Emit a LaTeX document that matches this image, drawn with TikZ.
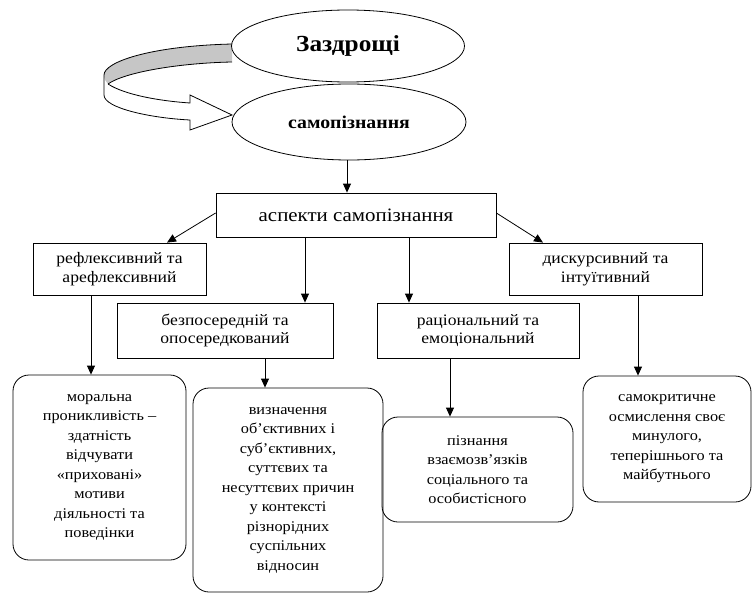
\documentclass[tikz,border=0pt]{standalone}
\usepackage{fontspec}
\setmainfont{Liberation Serif}[FakeStretch=1.1]
\usetikzlibrary{arrows.meta,shapes.geometric,calc}
\begin{document}
\begin{tikzpicture}[x=1pt,y=-1pt,
  line width=0.8pt,
  arr/.style={-{Triangle[length=9pt,width=8pt]}},
  sqbox/.style={draw,rectangle,align=center,inner sep=0pt,font=\fontsize{16}{18.5}\selectfont},
  rbox/.style={draw,rectangle,rounded corners=16pt,align=center,inner sep=0pt,font=\fontsize{14.8}{19.5}\selectfont},
  ell/.style={draw,ellipse,inner sep=0pt,font=\bfseries}
]
\useasboundingbox (0,0) rectangle (753,594);
% ribbon arrow
\fill[gray!45] (232,44) .. controls (150,46) and (104,62) .. (104,75)
   .. controls (104,79) and (106,82) .. (108,84)
   .. controls (125,72) and (180,63) .. (232,62) -- cycle;
\draw (232,44) .. controls (150,46) and (104,62) .. (104,75) -- (104,95);
\draw (232,62) .. controls (180,63) and (125,72) .. (108,84);
\draw (108,84) .. controls (125,95) and (160,101) .. (190,103) -- (190,95) -- (232,115) -- (190,130) -- (190,120) .. controls (150,118) and (104,108) .. (104,95);
% ellipses
\node[ell,minimum width=233pt,minimum height=72pt,font=\bfseries\fontsize{23}{25}\selectfont] (zaz) at (348,46) {Заздрощі};
\node[ell,minimum width=234pt,minimum height=76pt,fill=white,font=\bfseries\fontsize{18}{20}\selectfont] (sam) at (349,122) {самопізнання};
% boxes
\node[sqbox,minimum width=280pt,minimum height=44pt,font=\fontsize{19}{21}\selectfont] (asp) at (356,215) {аспекти самопізнання};
\node[sqbox,minimum width=173pt,minimum height=52pt] (refl) at (119.5,269) {рефлексивний та\\арефлексивний};
\node[sqbox,minimum width=216pt,minimum height=55pt] (bezp) at (225,330.5) {безпосередній та\\опосередкований};
\node[sqbox,minimum width=202pt,minimum height=55pt] (rac) at (478,330.5) {раціональний та\\емоціональний};
\node[sqbox,minimum width=193pt,minimum height=52pt] (disk) at (605.5,269) {дискурсивний та\\інтуїтивний};
\node[rbox,minimum width=173pt,minimum height=185pt] (mor) at (99.5,467.5) {моральна\\проникливість –\\здатність\\відчувати\\«приховані»\\мотиви\\діяльності та\\поведінки};
\node[rbox,minimum width=190pt,minimum height=204pt] (vyz) at (288,490) {визначення\\об’єктивних і\\суб’єктивних,\\суттєвих та\\несуттєвих причин\\у контексті\\різнорідних\\суспільних\\відносин};
\node[rbox,minimum width=191pt,minimum height=105pt] (piz) at (477.5,469.5) {пізнання\\взаємозв’язків\\соціального та\\особистісного};
\node[rbox,minimum width=168pt,minimum height=126pt] (samk) at (667,439) {самокритичне\\осмислення своє\\минулого,\\теперішнього та\\майбутнього};
% connectors
\coordinate (c1) at (305,0);
\coordinate (c2) at (409,0);
\coordinate (c3) at (91,0);
\coordinate (c4) at (265,0);
\coordinate (c5) at (450,0);
\coordinate (c6) at (638,0);
\coordinate (c7) at (167,0);
\coordinate (c8) at (543,0);
\coordinate (c9) at (347,0);
\draw[arr] (sam.south -| c9) -- (asp.north -| c9);
\draw[arr] ($(asp.west)+(0,-2)$) -- (refl.north -| c7);
\draw[arr] ($(asp.east)+(0,-2)$) -- (disk.north -| c8);
\draw[arr] (asp.south -| c1) -- (bezp.north -| c1);
\draw[arr] (asp.south -| c2) -- (rac.north -| c2);
\draw[arr] (refl.south -| c3) -- (mor.north -| c3);
\draw[arr] (bezp.south -| c4) -- (vyz.north -| c4);
\draw[arr] (rac.south -| c5) -- (piz.north -| c5);
\draw[arr] (disk.south -| c6) -- (samk.north -| c6);
\end{tikzpicture}
\end{document}
